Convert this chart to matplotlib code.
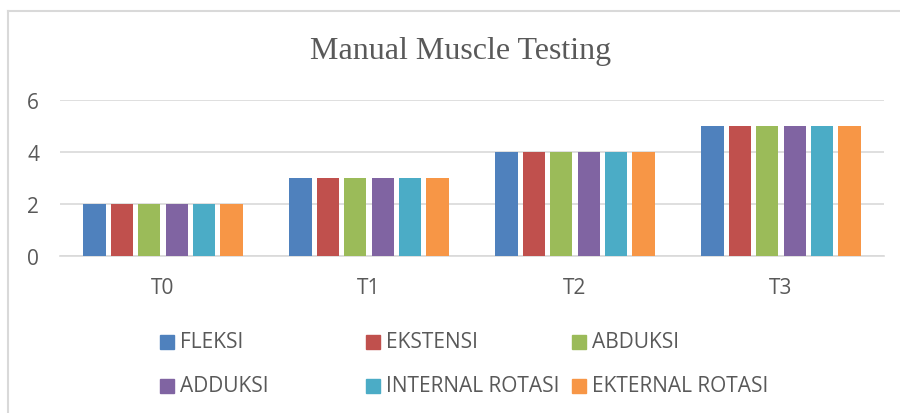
import numpy as np
import matplotlib.pyplot as plt
from matplotlib.patches import Rectangle
from matplotlib.lines import Line2D

# data
categories = ["T0", "T1", "T2", "T3"]
series = ["FLEKSI", "EKSTENSI", "ABDUKSI", "ADDUKSI", "INTERNAL ROTASI", "EKTERNAL ROTASI"]
values = {
    "FLEKSI":          [2, 3, 4, 5],
    "EKSTENSI":        [2, 3, 4, 5],
    "ABDUKSI":         [2, 3, 4, 5],
    "ADDUKSI":         [2, 3, 4, 5],
    "INTERNAL ROTASI": [2, 3, 4, 5],
    "EKTERNAL ROTASI": [2, 3, 4, 5],
}
colors = ["#4F81BD", "#C0504D", "#9BBB59", "#8064A2", "#4BACC6", "#F79646"]

W, H = 900, 414
TXT = "#595959"
GRID = "#D9D9D9"
SANS = ["Open Sans", "DejaVu Sans"]

fig = plt.figure(figsize=(W / 100, H / 100), dpi=100)
fig.patch.set_facecolor("white")

# chart frame (left and top edges visible, rest cut off)
fig.add_artist(Line2D([8 / W, 8 / W], [0, 1 - 12 / H], transform=fig.transFigure,
                      color=GRID, lw=1.5))
fig.add_artist(Line2D([8 / W, 1], [1 - 12 / H, 1 - 12 / H], transform=fig.transFigure,
                      color=GRID, lw=1.5))

ax = fig.add_axes([60 / W, (H - 257) / H, 824 / W, 156 / H])

x = np.arange(len(categories))
slot = 0.133
bw = 0.107
for i, (name, c) in enumerate(zip(series, colors)):
    off = (i - (len(series) - 1) / 2) * slot
    ax.bar(x + off, values[name], width=bw, color=c, zorder=3)

ax.set_xlim(-0.5, len(categories) - 0.5)
ax.set_ylim(0, 6)
ax.set_yticks([0, 2, 4, 6])
ax.set_xticks(x)
ax.set_xticklabels(categories)
ax.grid(axis="y", color=GRID, lw=1.2, zorder=0)
for s in ["top", "right", "left"]:
    ax.spines[s].set_visible(False)
ax.spines["bottom"].set_color(GRID)
ax.spines["bottom"].set_linewidth(1.2)
ax.tick_params(axis="y", length=0, pad=15, labelsize=15, labelcolor=TXT)
ax.tick_params(axis="x", length=0, pad=15, labelsize=15, labelcolor=TXT)
for lab in ax.get_xticklabels() + ax.get_yticklabels():
    lab.set_family(SANS)

fig.text(461 / W, 1 - 52 / H, "Manual Muscle Testing", ha="center", va="center",
         fontsize=23, color=TXT, family=["Liberation Serif", "DejaVu Serif"])

# legend, 3 columns x 2 rows
for i, (name, c) in enumerate(zip(series, colors)):
    col, row = i % 3, i // 3
    lx = 160 + col * 206
    ly = 343 + row * 44
    fig.add_artist(Rectangle((lx / W, 1 - (ly + 7) / H), 14 / W, 14 / H,
                             transform=fig.transFigure, color=c))
    fig.text((lx + 20) / W, 1 - ly / H, name, ha="left", va="center",
             fontsize=15, color=TXT, family=SANS)

fig.savefig("out.png", dpi=100, facecolor="white")
